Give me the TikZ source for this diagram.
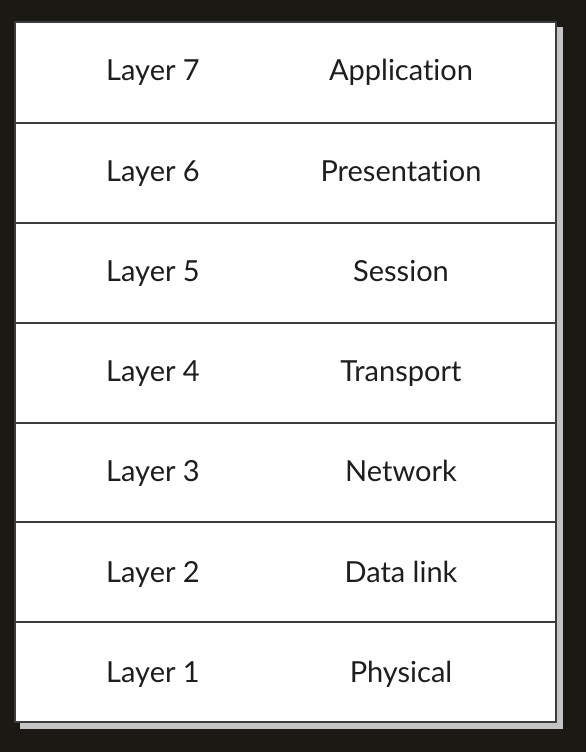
\documentclass[tikz,border=0pt]{standalone}
\usepackage{fontspec}
\setmainfont[Ligatures=NoCommon]{Lato}
\definecolor{bgdark}{HTML}{1A1914}
\definecolor{inkgrey}{HTML}{1E1E1E}
\definecolor{rulegrey}{HTML}{3C3C3C}
\definecolor{shadowgrey}{HTML}{C4C4C4}
\begin{document}
\begin{tikzpicture}[x=1pt,y=-1pt,
  cellrule/.style={draw=rulegrey,line width=2pt},
  lbl/.style={text=inkgrey,font=\fontsize{29}{32}\selectfont,anchor=base}]
\useasboundingbox (0,0) rectangle (586,752);
\fill[bgdark] (0,0) rectangle (586,752);
% soft shadow at right and bottom
\fill[shadowgrey] (20,27) rectangle (563,729);
% table body
\fill[white] (15,22) rectangle (556,722);
\draw[cellrule] (15,22) rectangle (556,722);
\foreach \y in {123,223,323,423,522,622}
  \draw[cellrule] (15,\y) -- (556,\y);
% row labels
\foreach \i/\n/\yb in {7/Application/81,6/Presentation/181,5/Session/281,4/Transport/381,3/Network/481,2/Data link/582,1/Physical/682}{
  \node[lbl] (l\i) at (153,\yb) {Layer \i};
  \node[lbl] (n\i) at (401,\yb) {\n};
}
\end{tikzpicture}
\end{document}
